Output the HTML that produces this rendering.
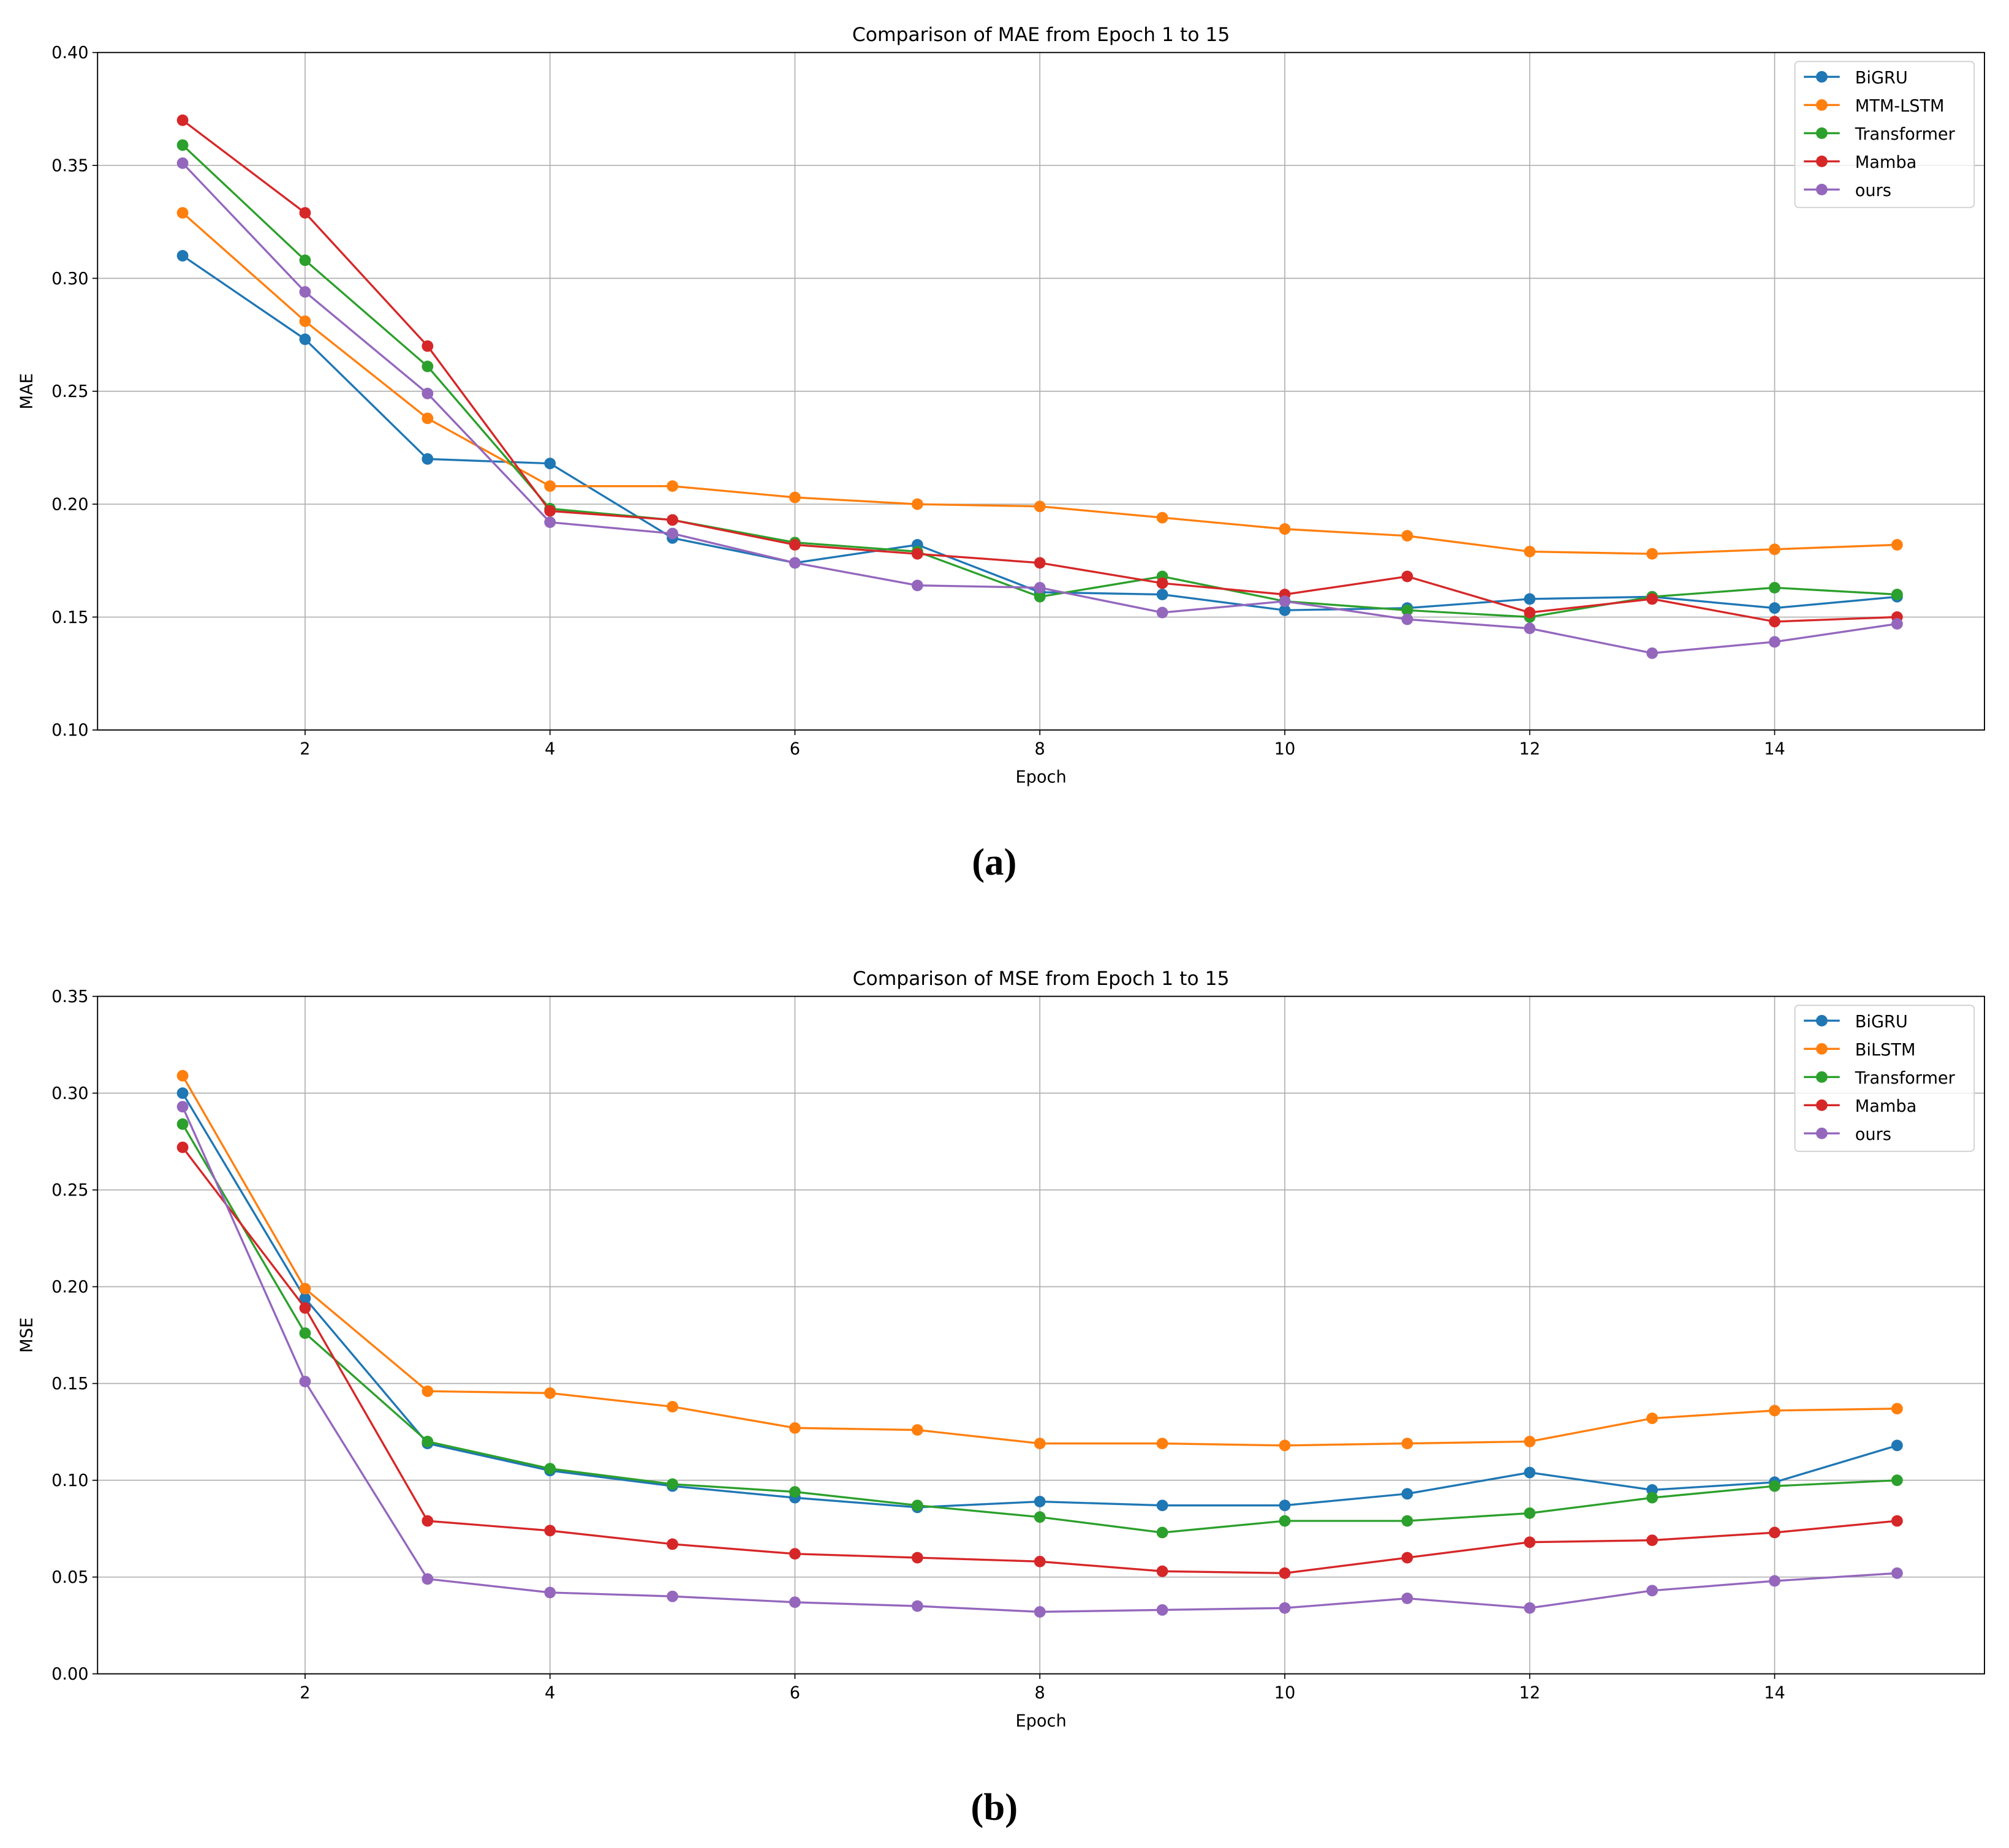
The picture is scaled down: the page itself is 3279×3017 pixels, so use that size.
<!DOCTYPE html>
<html><head><meta charset="utf-8"><style>
html,body{margin:0;padding:0;background:#fff;}
svg{display:block;font-family:"DejaVu Sans","Liberation Sans",sans-serif;}
</style></head><body>
<svg id="fig" width="3279" height="3017" viewBox="0 0 1568 1443" xmlns="http://www.w3.org/2000/svg">
<rect width="1568" height="1443" fill="#fff"/>
</svg>
<script>
const epochs=[1,2,3,4,5,6,7,8,9,10,11,12,13,14,15];
const xTicks=[2,4,6,8,10,12,14];
const colors=["#1f77b4","#ff7f0e","#2ca02c","#d62728","#9467bd"];
const maeNames=["BiGRU","MTM-LSTM","Transformer","Mamba","ours"];
const maeBiGRU=[0.310,0.273,0.220,0.218,0.185,0.174,0.182,0.161,0.160,0.153,0.154,0.158,0.159,0.154,0.159];
const maeLSTM=[0.329,0.281,0.238,0.208,0.208,0.203,0.200,0.199,0.194,0.189,0.186,0.179,0.178,0.180,0.182];
const maeTrans=[0.359,0.308,0.261,0.198,0.193,0.183,0.179,0.159,0.168,0.157,0.153,0.150,0.159,0.163,0.160];
const maeMamba=[0.370,0.329,0.270,0.197,0.193,0.182,0.178,0.174,0.165,0.160,0.168,0.152,0.158,0.148,0.150];
const maeOurs=[0.351,0.294,0.249,0.192,0.187,0.174,0.164,0.163,0.152,0.157,0.149,0.145,0.134,0.139,0.147];
const maeTicks=[0.10,0.15,0.20,0.25,0.30,0.35,0.40];
const mseNames=["BiGRU","BiLSTM","Transformer","Mamba","ours"];
const mseBiGRU=[0.300,0.194,0.119,0.105,0.097,0.091,0.086,0.089,0.087,0.087,0.093,0.104,0.095,0.099,0.118];
const mseLSTM=[0.309,0.199,0.146,0.145,0.138,0.127,0.126,0.119,0.119,0.118,0.119,0.120,0.132,0.136,0.137];
const mseTrans=[0.284,0.176,0.120,0.106,0.098,0.094,0.087,0.081,0.073,0.079,0.079,0.083,0.091,0.097,0.100];
const mseMamba=[0.272,0.189,0.079,0.074,0.067,0.062,0.060,0.058,0.053,0.052,0.060,0.068,0.069,0.073,0.079];
const mseOurs=[0.293,0.151,0.049,0.042,0.040,0.037,0.035,0.032,0.033,0.034,0.039,0.034,0.043,0.048,0.052];
const mseTicks=[0.00,0.05,0.10,0.15,0.20,0.25,0.30,0.35];

const NS="http://www.w3.org/2000/svg";
const svg=document.getElementById("fig");
function mk(tag,attrs,parent,text){const e=document.createElementNS(NS,tag);for(const k in attrs)e.setAttribute(k,attrs[k]);if(text!==undefined)e.textContent=text;(parent||svg).appendChild(e);return e;}

function chart(cfg){
  const g=mk("g",{});
  
  
  const L=76,R=1549,T=cfg.top,B=cfg.top+529;
  const ymin=cfg.ticks[0],ymax=cfg.ticks[cfg.ticks.length-1];
  const xs=v=>142.4+(v-1)*95.6;
  const ys=v=>B-(v-ymin)/(ymax-ymin)*(B-T);
  xTicks.forEach(t=>{
    const l=mk("line",{x1:xs(t),x2:xs(t),y1:T,y2:B,stroke:"#b0b0b0","stroke-width":0.8},g);
    
    
    mk("line",{x1:xs(t),x2:xs(t),y1:B,y2:B+4,stroke:"#000","stroke-width":0.8},g);
    const tx=mk("text",{x:xs(t),y:B+19,"font-size":13,"text-anchor":"middle"},g,String(t));
    
    
  });
  cfg.ticks.forEach(t=>{
    const l=mk("line",{x1:L,x2:R,y1:ys(t),y2:ys(t),stroke:"#b0b0b0","stroke-width":0.8},g);
    
    
    mk("line",{x1:L-4,x2:L,y1:ys(t),y2:ys(t),stroke:"#000","stroke-width":0.8},g);
    const tx=mk("text",{x:L-7,y:ys(t)+4.5,"font-size":13,"text-anchor":"end"},g,t.toFixed(2));
    
    
  });
  cfg.series.forEach((s,i)=>{
    const pts=s.map((v,j)=>xs(epochs[j]).toFixed(1)+","+ys(v).toFixed(1)).join(" ");
    const pl=mk("polyline",{points:pts,fill:"none",stroke:colors[i],"stroke-width":1.6},g);
    
    
    s.forEach((v,j)=>{
      const c=mk("circle",{cx:xs(epochs[j]),cy:ys(v),r:4.5,fill:colors[i]},g);
      
      
    });
  });
  const fr=mk("rect",{x:L,y:T,width:R-L,height:B-T,fill:"none",stroke:"#000","stroke-width":0.9},g);
  
  
  const ti=mk("text",{x:(L+R)/2,y:T-9,"font-size":15,"text-anchor":"middle"},g,cfg.title);
  
  
  const xl=mk("text",{x:(L+R)/2,y:B+41,"font-size":13,"text-anchor":"middle"},g,"Epoch");
  
  
  const yl=mk("text",{x:25,y:(T+B)/2,"font-size":13,"text-anchor":"middle",transform:`rotate(-90 25 ${(T+B)/2})`},g,cfg.ylabel);
  
  
  const lg=mk("g",{},g);
  
  
  mk("rect",{x:1401,y:T+7,width:140,height:114,rx:3,fill:"#fff","fill-opacity":0.8,stroke:"#ccc","stroke-width":0.8},lg);
  cfg.names.forEach((n,i)=>{
    const y=T+19+i*22;
    const e=mk("g",{},lg);
    
    
    mk("line",{x1:1408,x2:1436,y1:y,y2:y,stroke:colors[i],"stroke-width":1.6},e);
    mk("circle",{cx:1422,cy:y,r:4.5,fill:colors[i]},e);
    mk("text",{x:1448,y:y+5,"font-size":13},e,n);
  });
  const cap=mk("text",{x:776,y:cfg.capY,"font-size":30,"font-weight":"bold","text-anchor":"middle","font-family":"'Liberation Serif',serif"},g,cfg.cap);
  
  
}
chart({name:"mae-chart",top:41,ticks:maeTicks,series:[maeBiGRU,maeLSTM,maeTrans,maeMamba,maeOurs],names:maeNames,title:"Comparison of MAE from Epoch 1 to 15",ylabel:"MAE",cap:"(a)",capY:683});
chart({name:"mse-chart",top:778,ticks:mseTicks,series:[mseBiGRU,mseLSTM,mseTrans,mseMamba,mseOurs],names:mseNames,title:"Comparison of MSE from Epoch 1 to 15",ylabel:"MSE",cap:"(b)",capY:1421});
</script>
</body></html>
